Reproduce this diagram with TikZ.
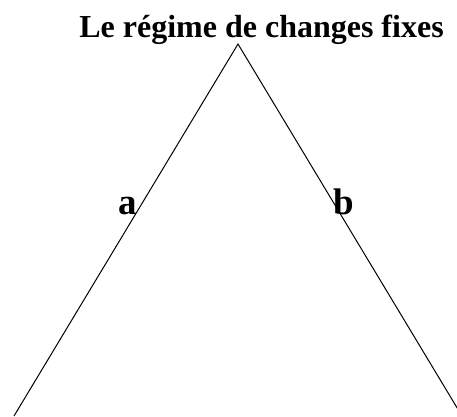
\documentclass[tikz,border=0pt]{standalone}
\usepackage{fontspec}
\setmainfont{Liberation Serif}
\begin{document}
\begin{tikzpicture}[x=1pt,y=-1pt,
  lbl/.style={anchor=base, inner sep=0pt, font=\bfseries\fontsize{37}{41}\selectfont},
  ttl/.style={anchor=base, inner sep=0pt, font=\bfseries\fontsize{32}{36}\selectfont}]
\useasboundingbox (0,0) rectangle (457,416);
\begin{scope}
\clip (0,0) rectangle (457,416);
\coordinate (apex) at (238,44);
\coordinate (L) at (14,416);
\coordinate (R) at (462,416);
\draw[line width=1pt] (L) -- (apex) -- (R);
\end{scope}
\node[ttl] (title) at (261.5,37) {Le régime de changes fixes};
\node[lbl] (a) at (128,214) {a};
\node[lbl] (b) at (344,214) {b};
\end{tikzpicture}
\end{document}
